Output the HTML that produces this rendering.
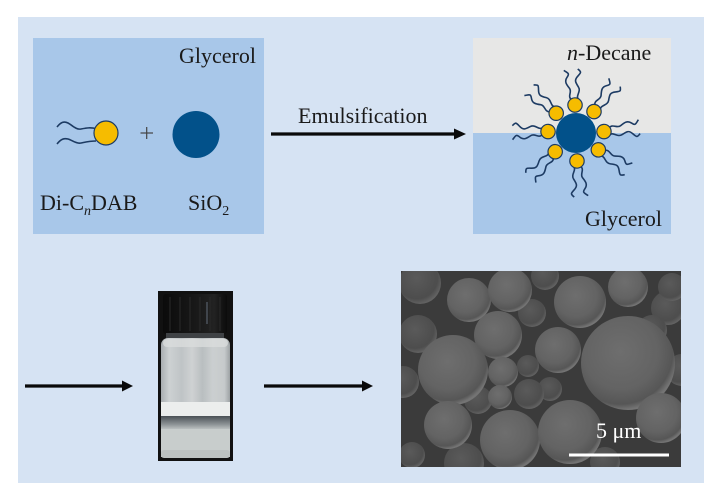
<!DOCTYPE html>
<html>
<head>
<meta charset="utf-8">
<style>
html,body{margin:0;padding:0;background:#ffffff;}
body{width:720px;height:498px;overflow:hidden;}
svg{display:block;}
text{font-family:"Liberation Serif","Times New Roman",serif;}
</style>
</head>
<body>
<svg width="720" height="498" viewBox="0 0 720 498" xmlns="http://www.w3.org/2000/svg">
  <defs>
    <radialGradient id="sph" cx="42%" cy="38%" r="62%">
      <stop offset="0" stop-color="#6e6e6e"/>
      <stop offset="0.65" stop-color="#636363"/>
      <stop offset="0.9" stop-color="#565656"/>
      <stop offset="1" stop-color="#747474"/>
    </radialGradient>
    <radialGradient id="sphd" cx="42%" cy="38%" r="62%">
      <stop offset="0" stop-color="#5a5a5a"/>
      <stop offset="0.8" stop-color="#4d4d4d"/>
      <stop offset="1" stop-color="#626262"/>
    </radialGradient>
    <linearGradient id="glass" x1="0" y1="0" x2="1" y2="0">
      <stop offset="0" stop-color="#a9aeb1"/>
      <stop offset="0.12" stop-color="#cdd1d2"/>
      <stop offset="0.3" stop-color="#bfc4c6"/>
      <stop offset="0.45" stop-color="#cfd2d3"/>
      <stop offset="0.6" stop-color="#b9bec0"/>
      <stop offset="0.75" stop-color="#cbcfd0"/>
      <stop offset="0.92" stop-color="#c6cacb"/>
      <stop offset="1" stop-color="#9da2a4"/>
    </linearGradient>
    <linearGradient id="dark" x1="0" y1="0" x2="0" y2="1">
      <stop offset="0" stop-color="#4a5055"/>
      <stop offset="0.6" stop-color="#8d9396"/>
      <stop offset="1" stop-color="#c4c9c9"/>
    </linearGradient>
    <linearGradient id="cap" x1="0" y1="0" x2="1" y2="0">
      <stop offset="0" stop-color="#0b0b0b"/>
      <stop offset="0.5" stop-color="#181818"/>
      <stop offset="0.8" stop-color="#222"/>
      <stop offset="1" stop-color="#0b0b0b"/>
    </linearGradient>
    <clipPath id="semclip"><rect x="401" y="271" width="280" height="196"/></clipPath>
    <g id="head">
      <path d="M33,-3 C37,-8 41,-2 45,-5 S52,-10 56,-7 S60,-6 63,-10" fill="none" stroke="#1d3b63" stroke-width="1.6"/>
      <path d="M33,4 C37,0 41,7 46,4 S53,0 57,4 S61,7 64,4" fill="none" stroke="#1d3b63" stroke-width="1.6"/>
      <circle cx="28" cy="0" r="7.2" fill="#f6bc00" stroke="#1d3b63" stroke-width="1.2"/>
    </g>
  </defs>

  <!-- background panel -->
  <rect x="18" y="17" width="686" height="466" fill="#d6e3f3"/>

  <!-- left box -->
  <rect x="33" y="38" width="231" height="196" fill="#a8c7e9"/>
  <text x="256" y="63" font-size="22" text-anchor="end" fill="#1a1a1a">Glycerol</text>
  <path d="M57,127 C61,122 64,121 68,123 S76,130 81,129 S91,127 97,129" fill="none" stroke="#1d3b63" stroke-width="1.6"/>
  <path d="M57,144 C61,139 64,138 68,139 S76,144 81,143 S90,141 96,141" fill="none" stroke="#1d3b63" stroke-width="1.6"/>
  <circle cx="106" cy="133" r="12" fill="#f6bc00" stroke="#1d3b63" stroke-width="1.2"/>
  <line x1="140.5" y1="133" x2="153" y2="133" stroke="#444" stroke-width="1.2"/>
  <line x1="146.7" y1="127" x2="146.7" y2="139" stroke="#444" stroke-width="1.2"/>
  <circle cx="196" cy="134.5" r="23.5" fill="#02518a"/>
  <text x="40" y="210" font-size="22" fill="#1a1a1a">Di-C<tspan font-size="14" font-style="italic" dy="5">n</tspan><tspan dy="-5">DAB</tspan></text>
  <text x="188" y="210" font-size="22" fill="#1a1a1a">SiO<tspan font-size="14" dy="5">2</tspan></text>

  <!-- emulsification arrow -->
  <text x="298" y="123" font-size="22" fill="#1a1a1a">Emulsification</text>
  <line x1="271" y1="134" x2="456" y2="134" stroke="#0a0a0a" stroke-width="3.2"/>
  <polygon points="454,128.5 466,134 454,139.5" fill="#0a0a0a"/>

  <!-- right box -->
  <rect x="473" y="38" width="198" height="96" fill="#e7e7e6"/>
  <rect x="473" y="133" width="198" height="101" fill="#a8c7e9"/>
  <text x="567" y="60" font-size="22" fill="#1a1a1a"><tspan font-style="italic">n</tspan>-Decane</text>
  <text x="662" y="226" font-size="22" text-anchor="end" fill="#1a1a1a">Glycerol</text>
  <g transform="translate(576,133)">
    <use href="#head" transform="rotate(-92)"/>
    <use href="#head" transform="rotate(-50)"/>
    <use href="#head" transform="rotate(-3)"/>
    <use href="#head" transform="rotate(37)"/>
    <use href="#head" transform="rotate(88)"/>
    <use href="#head" transform="rotate(138)"/>
    <use href="#head" transform="rotate(183)"/>
    <use href="#head" transform="rotate(225)"/>
    <circle cx="0" cy="0" r="20" fill="#02518a"/>
  </g>

  <!-- bottom arrows -->
  <line x1="25" y1="386" x2="123" y2="386" stroke="#0a0a0a" stroke-width="3.2"/>
  <polygon points="122,380.5 133,386 122,391.5" fill="#0a0a0a"/>
  <line x1="264" y1="386" x2="363" y2="386" stroke="#0a0a0a" stroke-width="3.2"/>
  <polygon points="362,380.5 373,386 362,391.5" fill="#0a0a0a"/>

  <!-- vial photo -->
  <rect x="158" y="291" width="75" height="170" fill="#111"/>
  <rect x="163" y="294" width="64" height="40" rx="3" fill="url(#cap)"/>
  <g stroke="#2a2a2a" stroke-width="1">
    <line x1="170" y1="297" x2="170" y2="331"/>
    <line x1="180" y1="297" x2="180" y2="331"/>
    <line x1="190" y1="297" x2="190" y2="331"/>
    <line x1="200" y1="297" x2="200" y2="331"/>
    <line x1="210" y1="297" x2="210" y2="331"/>
    <line x1="220" y1="297" x2="220" y2="331"/>
  </g>
  <rect x="206" y="302" width="2" height="22" fill="#4f5560" opacity="0.7"/>
  <rect x="166" y="333" width="58" height="7" fill="#3f4245"/>
  <rect x="161" y="338" width="69" height="120" rx="7" fill="url(#glass)"/>
  <rect x="163" y="339" width="65" height="8" rx="4" fill="#d9dcdc" opacity="0.8"/>
  <rect x="161" y="402" width="69" height="14" fill="#eceeed"/>
  <rect x="161" y="416" width="69" height="14" fill="url(#dark)"/>
  <rect x="161" y="429" width="69" height="28" fill="#c8cdcc"/>
  <rect x="161" y="450" width="69" height="8" rx="3" fill="#bcc1c0"/>

  <!-- SEM image -->
  <g clip-path="url(#semclip)">
    <rect x="401" y="271" width="280" height="196" fill="#3b3b3b"/>
    <circle cx="420" cy="283" r="21" fill="url(#sphd)"/>
    <circle cx="418" cy="334" r="19" fill="url(#sphd)"/>
    <circle cx="403" cy="382" r="16" fill="url(#sphd)"/>
    <circle cx="412" cy="455" r="13" fill="url(#sphd)"/>
    <circle cx="464" cy="463" r="20" fill="url(#sphd)"/>
    <circle cx="532" cy="313" r="14" fill="url(#sphd)"/>
    <circle cx="668" cy="308" r="17" fill="url(#sphd)"/>
    <circle cx="672" cy="287" r="14" fill="url(#sphd)"/>
    <circle cx="652" cy="330" r="15" fill="url(#sphd)"/>
    <circle cx="528" cy="366" r="11" fill="url(#sphd)"/>
    <circle cx="550" cy="389" r="12" fill="url(#sphd)"/>
    <circle cx="529" cy="394" r="15" fill="url(#sphd)"/>
    <circle cx="605" cy="462" r="15" fill="url(#sphd)"/>
    <circle cx="682" cy="370" r="16" fill="url(#sphd)"/>
    <circle cx="545" cy="276" r="14" fill="url(#sphd)"/>
    <circle cx="478" cy="400" r="14" fill="url(#sphd)"/>
    <circle cx="469" cy="300" r="22" fill="url(#sph)"/>
    <circle cx="510" cy="290" r="22" fill="url(#sph)"/>
    <circle cx="580" cy="302" r="26" fill="url(#sph)"/>
    <circle cx="628" cy="287" r="20" fill="url(#sph)"/>
    <circle cx="498" cy="335" r="24" fill="url(#sph)"/>
    <circle cx="558" cy="350" r="23" fill="url(#sph)"/>
    <circle cx="453" cy="370" r="35" fill="url(#sph)"/>
    <circle cx="503" cy="372" r="15" fill="url(#sph)"/>
    <circle cx="500" cy="397" r="12" fill="url(#sph)"/>
    <circle cx="628" cy="363" r="47" fill="url(#sph)"/>
    <circle cx="448" cy="425" r="24" fill="url(#sph)"/>
    <circle cx="510" cy="440" r="30" fill="url(#sph)"/>
    <circle cx="570" cy="432" r="32" fill="url(#sph)"/>
    <circle cx="661" cy="418" r="25" fill="url(#sph)"/>
  </g>
  <text x="596" y="438" font-size="22" fill="#ffffff">5 μm</text>
  <line x1="569" y1="455" x2="669" y2="455" stroke="#ffffff" stroke-width="3"/>
</svg>
</body>
</html>
